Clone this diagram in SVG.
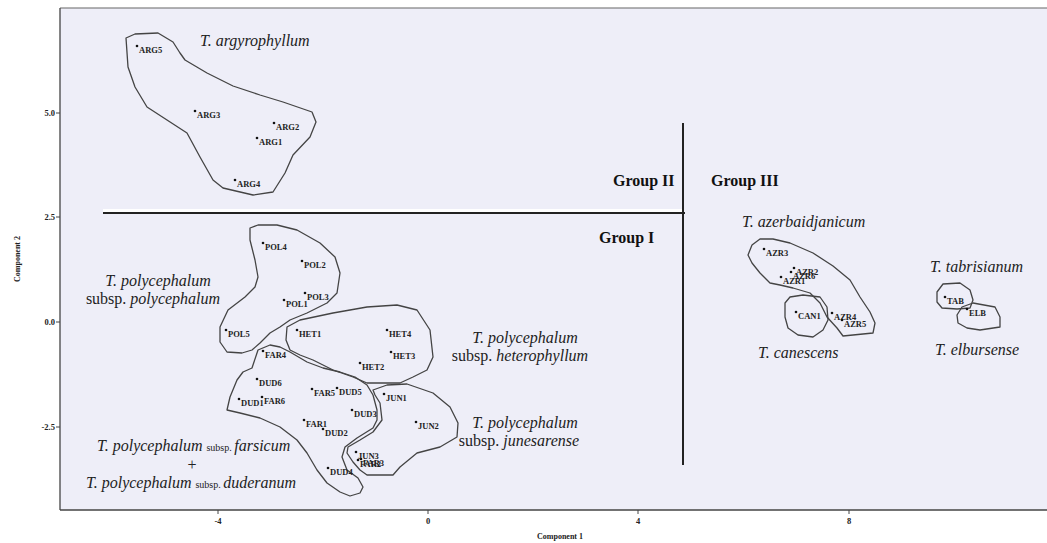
<svg xmlns="http://www.w3.org/2000/svg" width="1047" height="543" viewBox="0 0 1047 543">
<style>
.bg{fill:#eeeef8}
.frame{fill:none;stroke:#666;stroke-width:1.2}
.axis{stroke:#444;stroke-width:1.3}
.tick{stroke:#444;stroke-width:1}
.tl{font-family:"Liberation Serif",serif;font-size:8.5px;font-weight:bold;fill:#222}
.at{font-family:"Liberation Serif",serif;font-size:8px;font-weight:bold;fill:#222}
.hull{fill:none;stroke:#444;stroke-width:1.3;stroke-linejoin:round}
.pt{fill:#111}
.pl{font-family:"Liberation Serif",serif;font-size:8.5px;font-weight:bold;fill:#222}
.sp{font-family:"Liberation Serif",serif;font-size:16px;font-style:italic;fill:#222}
.ss{font-family:"Liberation Serif",serif;font-size:16px;fill:#222}
.sm{font-family:"Liberation Serif",serif;font-size:10px;fill:#222}
.grp{font-family:"Liberation Serif",serif;font-size:16px;font-weight:bold;fill:#111}
.div{stroke:#222;stroke-width:2}
</style>
<rect x="0" y="0" width="1047" height="543" fill="#ffffff"/>
<rect class="bg" x="60" y="8" width="987" height="502"/>
<g id="axes">
<line class="frame" x1="60" y1="8" x2="1047" y2="8"/>
<line class="axis" x1="60" y1="8" x2="60" y2="510"/>
<line class="axis" x1="60" y1="510" x2="1047" y2="510"/>
<line class="tick" x1="56" y1="113" x2="60" y2="113"/>
<line class="tick" x1="56" y1="217" x2="60" y2="217"/>
<line class="tick" x1="56" y1="322" x2="60" y2="322"/>
<line class="tick" x1="56" y1="427" x2="60" y2="427"/>
<text class="tl" x="55" y="116" text-anchor="end">5.0</text>
<text class="tl" x="55" y="220" text-anchor="end">2.5</text>
<text class="tl" x="55" y="325" text-anchor="end">0.0</text>
<text class="tl" x="55" y="430" text-anchor="end">-2.5</text>
<line class="tick" x1="218" y1="510" x2="218" y2="514"/>
<line class="tick" x1="428" y1="510" x2="428" y2="514"/>
<line class="tick" x1="638" y1="510" x2="638" y2="514"/>
<line class="tick" x1="849" y1="510" x2="849" y2="514"/>
<text class="tl" x="218" y="524" text-anchor="middle">-4</text>
<text class="tl" x="428" y="524" text-anchor="middle">0</text>
<text class="tl" x="638" y="524" text-anchor="middle">4</text>
<text class="tl" x="849" y="524" text-anchor="middle">8</text>
<text class="at" x="560" y="539" text-anchor="middle">Component 1</text>
<text class="at" x="20" y="259" text-anchor="middle" transform="rotate(-90 20 259)">Component 2</text>
</g>
<g id="connectors">
<line x1="103" y1="210.5" x2="683" y2="210.5" stroke="#ffffff" stroke-width="3"/>
<line class="div" x1="103" y1="213" x2="685" y2="213"/>
<line class="div" x1="683" y1="123" x2="683" y2="465"/>
</g>
<g id="group-labels">
<text class="grp" x="613" y="186">Group II</text>
<text class="grp" x="599" y="243">Group I</text>
<text class="grp" x="711" y="186">Group III</text>
</g>
<g id="argyrophyllum">
<polygon class="hull" points="126,38 135,34 158,33 173,42 180,53 185,60 207,73 233,86 260,95 283,102 312,112 316,122 310,137 293,155 285,173 273,192 253,195 223,188 213,180 200,157 187,133 167,120 147,107 135,87 128,67"/>
<circle class="pt" cx="137" cy="46" r="1.3"/><text class="pl" x="139" y="53">ARG5</text>
<circle class="pt" cx="195" cy="111" r="1.3"/><text class="pl" x="197" y="118">ARG3</text>
<circle class="pt" cx="274" cy="123" r="1.3"/><text class="pl" x="276" y="130">ARG2</text>
<circle class="pt" cx="257" cy="138" r="1.3"/><text class="pl" x="259" y="145">ARG1</text>
<circle class="pt" cx="235" cy="180" r="1.3"/><text class="pl" x="237" y="187">ARG4</text>
<text class="sp" x="200" y="46">T. argyrophyllum</text>
</g>
<g id="polycephalum">
<polygon class="hull" points="250,228 258,225 277,225 297,230 320,243 335,257 340,273 337,293 327,303 307,313 290,320 280,327 270,333 260,343 252,350 242,353 227,352 220,342 220,327 228,310 245,297 255,287 258,277 255,260 250,240"/>
<circle class="pt" cx="263" cy="243" r="1.3"/><text class="pl" x="265" y="250">POL4</text>
<circle class="pt" cx="302" cy="261" r="1.3"/><text class="pl" x="304" y="268">POL2</text>
<circle class="pt" cx="305" cy="293" r="1.3"/><text class="pl" x="307" y="300">POL3</text>
<circle class="pt" cx="284" cy="300" r="1.3"/><text class="pl" x="286" y="307">POL1</text>
<circle class="pt" cx="226" cy="330" r="1.3"/><text class="pl" x="228" y="337">POL5</text>
<text class="sp" x="158" y="286" text-anchor="middle">T. polycephalum</text>
<text x="153" y="304" text-anchor="middle"><tspan class="ss">subsp. </tspan><tspan class="sp">polycephalum</tspan></text>
</g>
<g id="heterophyllum">
<polygon class="hull" points="287,327 300,320 333,313 367,307 397,305 417,310 430,330 433,357 427,370 413,377 400,383 367,383 353,377 333,370 313,360 300,355 290,350 286,340"/>
<circle class="pt" cx="297" cy="330" r="1.3"/><text class="pl" x="299" y="337">HET1</text>
<circle class="pt" cx="387" cy="330" r="1.3"/><text class="pl" x="389" y="337">HET4</text>
<circle class="pt" cx="391" cy="352" r="1.3"/><text class="pl" x="393" y="359">HET3</text>
<circle class="pt" cx="360" cy="363" r="1.3"/><text class="pl" x="362" y="370">HET2</text>
<text class="sp" x="525" y="343" text-anchor="middle">T. polycephalum</text>
<text x="520" y="361" text-anchor="middle"><tspan class="ss">subsp. </tspan><tspan class="sp">heterophyllum</tspan></text>
</g>
<g id="farsicum-duderanum">
<polygon class="hull" points="252,368 258,350 270,345 280,347 290,352 307,362 323,368 340,372 355,377 367,385 373,395 377,410 377,420 373,428 357,438 345,447 342,457 347,470 358,478 363,487 360,493 350,496 340,492 327,483 317,470 307,453 297,440 280,427 260,418 240,413 227,410 230,397 237,380 243,372"/>
<circle class="pt" cx="263" cy="351" r="1.3"/><text class="pl" x="265" y="358">FAR4</text>
<circle class="pt" cx="257" cy="379" r="1.3"/><text class="pl" x="259" y="386">DUD6</text>
<circle class="pt" cx="239" cy="399" r="1.3"/><text class="pl" x="241" y="406">DUD1</text>
<circle class="pt" cx="262" cy="397" r="1.3"/><text class="pl" x="264" y="404">FAR6</text>
<circle class="pt" cx="312" cy="389" r="1.3"/><text class="pl" x="314" y="396">FAR5</text>
<circle class="pt" cx="337" cy="388" r="1.3"/><text class="pl" x="339" y="395">DUD5</text>
<circle class="pt" cx="352" cy="410" r="1.3"/><text class="pl" x="354" y="417">DUD3</text>
<circle class="pt" cx="304" cy="420" r="1.3"/><text class="pl" x="306" y="427">FAR1</text>
<circle class="pt" cx="323" cy="429" r="1.3"/><text class="pl" x="325" y="436">DUD2</text>
<circle class="pt" cx="328" cy="468" r="1.3"/><text class="pl" x="330" y="475">DUD4</text>
<circle class="pt" cx="358" cy="460" r="1.3"/><text class="pl" x="360" y="467">FAR2</text>
<circle class="pt" cx="361" cy="459" r="1.3"/><text class="pl" x="363" y="466">FAR3</text>
<text x="97" y="451"><tspan class="sp">T. polycephalum </tspan><tspan class="sm">subsp. </tspan><tspan class="sp">farsicum</tspan></text>
<text class="ss" x="192" y="470" text-anchor="middle">+</text>
<text x="86" y="488"><tspan class="sp">T. polycephalum </tspan><tspan class="sm">subsp. </tspan><tspan class="sp">duderanum</tspan></text>
</g>
<g id="junesarense">
<polygon class="hull" points="373,390 387,385 407,384 433,393 450,407 458,423 457,437 440,447 417,453 400,467 393,475 367,475 360,470 353,462 347,453 348,447 360,440 373,432 382,420 380,403 375,395"/>
<circle class="pt" cx="384" cy="394" r="1.3"/><text class="pl" x="386" y="401">JUN1</text>
<circle class="pt" cx="416" cy="422" r="1.3"/><text class="pl" x="418" y="429">JUN2</text>
<circle class="pt" cx="356" cy="452" r="1.3"/><text class="pl" x="358" y="459">JUN3</text>
<text class="sp" x="525" y="428" text-anchor="middle">T. polycephalum</text>
<text x="519" y="446" text-anchor="middle"><tspan class="ss">subsp. </tspan><tspan class="sp">junesarense</tspan></text>
</g>
<g id="azerbaidjanicum">
<polygon class="hull" points="748,255 752,245 760,239 773,239 790,243 813,253 833,266 850,280 860,297 870,312 875,323 873,333 843,336 837,328 827,317 820,303 810,293 793,288 780,285 770,283 760,273 752,263"/>
<circle class="pt" cx="764" cy="249" r="1.3"/><text class="pl" x="766" y="256">AZR3</text>
<circle class="pt" cx="794" cy="268" r="1.3"/><text class="pl" x="796" y="275">AZR2</text>
<circle class="pt" cx="791" cy="272" r="1.3"/><text class="pl" x="793" y="279">AZR6</text>
<circle class="pt" cx="781" cy="277" r="1.3"/><text class="pl" x="783" y="284">AZR1</text>
<circle class="pt" cx="832" cy="313" r="1.3"/><text class="pl" x="834" y="320">AZR4</text>
<circle class="pt" cx="842" cy="320" r="1.3"/><text class="pl" x="844" y="327">AZR5</text>
<text class="sp" x="742" y="227">T. azerbaidjanicum</text>
</g>
<g id="canescens">
<polygon class="hull" points="785,303 790,297 803,295 820,297 827,307 828,320 823,330 813,337 798,335 788,328 785,317"/>
<circle class="pt" cx="796" cy="312" r="1.3"/><text class="pl" x="798" y="319">CAN1</text>
<text class="sp" x="758" y="358">T. canescens</text>
</g>
<g id="tabrisianum">
<polygon class="hull" points="937,292 943,284 960,283 970,290 973,300 970,308 957,309 942,308 937,302"/>
<circle class="pt" cx="945" cy="297" r="1.3"/><text class="pl" x="947" y="304">TAB</text>
<text class="sp" x="930" y="272">T. tabrisianum</text>
</g>
<g id="elbursense">
<polygon class="hull" points="957,315 962,307 973,303 995,307 1000,317 1000,327 980,330 967,328 958,323"/>
<circle class="pt" cx="967" cy="309" r="1.3"/><text class="pl" x="969" y="316">ELB</text>
<text class="sp" x="935" y="355">T. elbursense</text>
</g>
</svg>
